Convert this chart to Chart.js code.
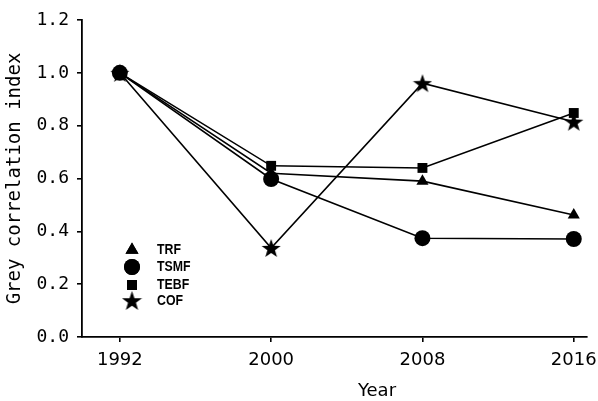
<!DOCTYPE html>
<html>
<head>
<meta charset="utf-8">
<script src="https://cdn.jsdelivr.net/npm/chart.js@4/dist/chart.umd.min.js"></script>
<style>
  html, body { margin: 0; padding: 0; background: #fff; }
  #box { width: 598px; height: 401px; }
</style>
</head>
<body>
<div id="box"><canvas id="myChart"></canvas></div>
<script>
'use strict';

// data
var years = [1992, 2000, 2008, 2016];
var seriesNames = ['TRF', 'TSMF', 'TEBF', 'COF'];
var trf = [1.0, 0.62, 0.59, 0.462];
var tsmf = [1.0, 0.598, 0.374, 0.371];
var tebf = [1.0, 0.648, 0.64, 0.848];
var cof = [1.0, 0.337, 0.961, 0.815];
var yTicks = [0, 0.2, 0.4, 0.6, 0.8, 1.0, 1.2];

//filled five point star, chart.js 'star' is only an asterisk
function makeStar(size) {
  var c = document.createElement('canvas');
  c.width = size;
  c.height = size;
  var g = c.getContext('2d');
  var cx = size / 2, cy = size / 2 + size * 0.05;
  var outer = size / 2, inner = outer * 0.4;
  g.beginPath();
  for (var i = 0; i < 10; i++) {
    var r = (i % 2 === 0) ? outer : inner;
    var a = -Math.PI / 2 + i * Math.PI / 5;
    g.lineTo(cx + r * Math.cos(a), cy + r * Math.sin(a));
  }
  g.closePath();
  g.fillStyle = '#000';
  g.fill();
  return c;
}
var starBig = makeStar(20);
var starSmall = makeStar(21);

function toPoints(values) {
  return values.map(function (v, i) { return { x: years[i], y: v }; });
}

//draw order: circle ends up on top at 1992 like the original
var styles = [
  { pointStyle: 'triangle', radius: 7, order: 2 },
  { pointStyle: 'circle', radius: 8, order: 0 },
  { pointStyle: 'rect', radius: 7, order: 1 },
  { pointStyle: starBig, radius: 10, order: 3 }
];
var allValues = [trf, tsmf, tebf, cof];

var datasets = allValues.map(function (vals, i) {
  return {
    label: seriesNames[i],
    data: toPoints(vals),
    order: styles[i].order,
    borderColor: '#000',
    backgroundColor: '#000',
    borderWidth: 1.6,
    pointStyle: styles[i].pointStyle,
    pointRadius: styles[i].radius,
    pointBorderWidth: 0,
    pointBackgroundColor: '#000',
    tension: 0
  };
});

//legend inside plot + year title
var extras = {
  id: 'extras',
  afterDraw: function (chart) {
    var ctx = chart.ctx;
    ctx.save();
    ctx.fillStyle = '#000';
    ctx.strokeStyle = '#000';
    var rows = [250, 267, 285, 301];
    var legendStyles = [
      { pointStyle: 'triangle', radius: 7.5 },
      { pointStyle: 'circle', radius: 8 },
      { pointStyle: 'rect', radius: 7 },
      { pointStyle: starSmall, radius: 10.5 }
    ];
    for (var i = 0; i < rows.length; i++) {
      var st = legendStyles[i];
      if (typeof st.pointStyle === 'string') {
        Chart.helpers.drawPoint(ctx, { pointStyle: st.pointStyle, radius: st.radius, borderWidth: 0, rotation: 0 }, 132, rows[i]);
        ctx.fill();
      } else {
        ctx.drawImage(st.pointStyle, 132 - 10.5, rows[i] - 11, 21, 21);
      }
    }
    ctx.font = 'bold 14px "Liberation Sans Narrow", "Liberation Sans", sans-serif';
    ctx.textBaseline = 'middle';
    ctx.textAlign = 'left';
    for (var j = 0; j < rows.length; j++) {
      ctx.save();
      ctx.translate(157, rows[j]);
      ctx.scale(0.88, 1);
      ctx.fillText(seriesNames[j], 0, 0);
      ctx.restore();
    }
    ctx.font = '18px "DejaVu Sans", sans-serif';
    ctx.textAlign = 'center';
    ctx.fillText('Year', 377, 391);
    ctx.restore();
  }
};

var ctx = document.getElementById('myChart').getContext('2d');
//eslint-disable-next-line no-undef, no-unused-vars
var chart = new Chart(ctx, {
  type: 'line',
  data: { datasets: datasets },
  plugins: [extras],
  options: {
    responsive: true,
    maintainAspectRatio: false,
    animation: false,
    layout: { padding: { left: 0, top: 20, right: 11, bottom: 0 } },
    plugins: {
      legend: { display: false },
      tooltip: { enabled: false }
    },
    scales: {
      x: {
        type: 'linear',
        min: 1990,
        max: 2016.7,
        afterBuildTicks: function (scale) {
          scale.ticks = years.map(function (v) { return { value: v }; });
        },
        afterFit: function (scale) {
          scale.height = 64;
          scale.paddingLeft = 0;
          scale.paddingRight = 0;
        },
        grid: { drawOnChartArea: false, drawTicks: true, tickLength: 5, color: '#000', lineWidth: 1.6 },
        border: { display: true, color: '#000', width: 1.8 },
        ticks: {
          color: '#000',
          padding: 8,
          maxRotation: 0,
          autoSkip: false,
          font: { family: '"DejaVu Sans", sans-serif', size: 18 },
          callback: function (v) { return String(v); }
        }
      },
      y: {
        min: 0,
        max: 1.2,
        afterBuildTicks: function (scale) {
          scale.ticks = yTicks.map(function (v) { return { value: v }; });
        },
        afterFit: function (scale) {
          scale.width = 82;
          scale.paddingTop = 0;
          scale.paddingBottom = 0;
        },
        grid: { drawOnChartArea: false, drawTicks: true, tickLength: 5, color: '#000', lineWidth: 1.6 },
        border: { display: true, color: '#000', width: 1.8 },
        title: {
          display: true,
          text: 'Grey correlation index',
          color: '#000',
          padding: { top: 4, bottom: 0 },
          font: { family: '"DejaVu Sans Mono", monospace', size: 19 }
        },
        ticks: {
          color: '#000',
          padding: 8,
          font: { family: '"DejaVu Sans Mono", monospace', size: 18 },
          callback: function (v) { return v.toFixed(1); }
        }
      }
    }
  }
});
</script>
</body>
</html>
